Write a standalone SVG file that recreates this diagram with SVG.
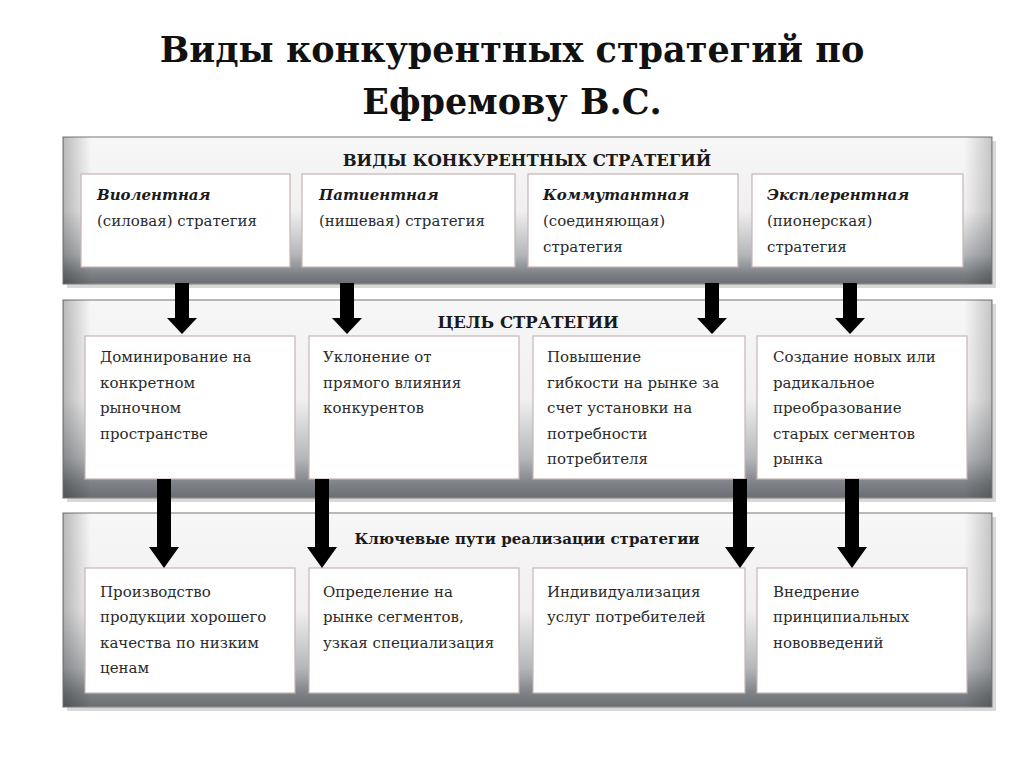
<svg xmlns="http://www.w3.org/2000/svg" width="1024" height="767" viewBox="0 0 1024 767">
<defs>
<linearGradient id="pg" x1="0" y1="0" x2="0" y2="1">
<stop offset="0" stop-color="#f7f7f7"/>
<stop offset="0.5" stop-color="#f0f0f0"/>
<stop offset="0.8" stop-color="#b4b7ba"/>
<stop offset="0.93" stop-color="#7d8185"/>
<stop offset="1" stop-color="#6a6e72"/>
</linearGradient>
<linearGradient id="sg" x1="0" y1="0" x2="1" y2="0">
<stop offset="0" stop-color="#000" stop-opacity="0.25"/>
<stop offset="0.03" stop-color="#000" stop-opacity="0"/>
<stop offset="0.97" stop-color="#000" stop-opacity="0"/>
<stop offset="1" stop-color="#000" stop-opacity="0.2"/>
</linearGradient>
</defs>
<style>
.title{font-family:"DejaVu Serif","Liberation Serif",serif;font-weight:bold;font-size:35px;fill:#111;text-anchor:middle}
.panel{fill:url(#pg);stroke:#8c8c8c;stroke-width:1.2}
.side{fill:url(#sg)}
.shadow{fill:#d8d8d8}
.box{fill:#fff;stroke:#c9b3b3;stroke-width:1.2}
.ph{font-family:"DejaVu Serif","Liberation Serif",serif;font-weight:bold;font-size:15px;fill:#1a1a1a;text-anchor:middle}
.caps{font-size:16.5px}
.t{font-family:"DejaVu Serif","Liberation Serif",serif;font-size:15px;fill:#2b2b2b}
.ti{font-family:"DejaVu Serif","Liberation Serif",serif;font-size:15px;fill:#1a1a1a;font-style:italic;font-weight:bold}
.arrow{fill:#000}
</style>
<rect width="1024" height="767" fill="#fff"/>
<text class="title" x="512" y="62">Виды конкурентных стратегий по</text>
<text class="title" x="512" y="114">Ефремову В.С.</text>

<g id="panel-types">
<rect class="shadow" x="67" y="141" width="929" height="147"/>
<rect class="panel" x="63" y="137" width="929" height="147"/>
<rect class="side" x="63" y="137" width="929" height="147"/>
<text class="ph caps" x="527" y="166">ВИДЫ КОНКУРЕНТНЫХ СТРАТЕГИЙ</text>
</g>
<g id="type-violent">
<rect class="box" x="81" y="174" width="209" height="93"/>
<text class="ti" x="97" y="200">Виолентная</text>
<text class="t" x="97" y="226">(силовая) стратегия</text>
</g>
<g id="type-patient">
<rect class="box" x="302" y="174" width="213" height="93"/>
<text class="ti" x="319" y="200">Патиентная</text>
<text class="t" x="319" y="226">(нишевая) стратегия</text>
</g>
<g id="type-commutant">
<rect class="box" x="528" y="174" width="210" height="93"/>
<text class="ti" x="543" y="200">Коммутантная</text>
<text class="t" x="543" y="226">(соединяющая)</text>
<text class="t" x="543" y="252">стратегия</text>
</g>
<g id="type-explerent">
<rect class="box" x="752" y="174" width="211" height="93"/>
<text class="ti" x="767" y="200">Эксплерентная</text>
<text class="t" x="767" y="226">(пионерская)</text>
<text class="t" x="767" y="252">стратегия</text>
</g>

<g id="panel-goal">
<rect class="shadow" x="67" y="304" width="929" height="198"/>
<rect class="panel" x="63" y="300" width="929" height="198"/>
<rect class="side" x="63" y="300" width="929" height="198"/>
<text class="ph caps" x="528" y="328">ЦЕЛЬ СТРАТЕГИИ</text>
</g>
<g id="goal-1">
<rect class="box" x="85" y="336" width="210" height="143"/>
<text class="t" x="100" y="362">Доминирование на</text>
<text class="t" x="100" y="388">конкретном</text>
<text class="t" x="100" y="413">рыночном</text>
<text class="t" x="100" y="439">пространстве</text>
</g>
<g id="goal-2">
<rect class="box" x="309" y="336" width="210" height="143"/>
<text class="t" x="323" y="362">Уклонение от</text>
<text class="t" x="323" y="388">прямого влияния</text>
<text class="t" x="323" y="413">конкурентов</text>
</g>
<g id="goal-3">
<rect class="box" x="533" y="336" width="212" height="143"/>
<text class="t" x="547" y="362">Повышение</text>
<text class="t" x="547" y="388">гибкости на рынке за</text>
<text class="t" x="547" y="413">счет установки на</text>
<text class="t" x="547" y="439">потребности</text>
<text class="t" x="547" y="464">потребителя</text>
</g>
<g id="goal-4">
<rect class="box" x="757" y="336" width="210" height="143"/>
<text class="t" x="773" y="362">Создание новых или</text>
<text class="t" x="773" y="388">радикальное</text>
<text class="t" x="773" y="413">преобразование</text>
<text class="t" x="773" y="439">старых сегментов</text>
<text class="t" x="773" y="464">рынка</text>
</g>

<g id="panel-ways">
<rect class="shadow" x="67" y="517" width="929" height="194"/>
<rect class="panel" x="63" y="513" width="929" height="194"/>
<rect class="side" x="63" y="513" width="929" height="194"/>
<text class="ph" x="527" y="544">Ключевые пути реализации стратегии</text>
</g>
<g id="way-1">
<rect class="box" x="85" y="568" width="210" height="125"/>
<text class="t" x="100" y="597">Производство</text>
<text class="t" x="100" y="622">продукции хорошего</text>
<text class="t" x="100" y="648">качества по низким</text>
<text class="t" x="100" y="673">ценам</text>
</g>
<g id="way-2">
<rect class="box" x="309" y="568" width="210" height="125"/>
<text class="t" x="323" y="597">Определение на</text>
<text class="t" x="323" y="622">рынке сегментов,</text>
<text class="t" x="323" y="648">узкая специализация</text>
</g>
<g id="way-3">
<rect class="box" x="533" y="568" width="212" height="125"/>
<text class="t" x="547" y="597">Индивидуализация</text>
<text class="t" x="547" y="622">услуг потребителей</text>
</g>
<g id="way-4">
<rect class="box" x="757" y="568" width="210" height="125"/>
<text class="t" x="773" y="597">Внедрение</text>
<text class="t" x="773" y="622">принципиальных</text>
<text class="t" x="773" y="648">нововведений</text>
</g>

<g id="connectors">
<path class="arrow" d="M175,283 H189 V318 H197 L182,334 L167,318 H175 Z"/>
<path class="arrow" d="M340,283 H354 V318 H362 L347,334 L332,318 H340 Z"/>
<path class="arrow" d="M705,283 H719 V318 H727 L712,334 L697,318 H705 Z"/>
<path class="arrow" d="M843,283 H857 V318 H865 L850,334 L835,318 H843 Z"/>
<path class="arrow" d="M157,479 H171 V547 H179 L164,568 L149,547 H157 Z"/>
<path class="arrow" d="M315,479 H329 V547 H337 L322,568 L307,547 H315 Z"/>
<path class="arrow" d="M733,479 H747 V547 H755 L740,568 L725,547 H733 Z"/>
<path class="arrow" d="M845,479 H859 V547 H867 L852,568 L837,547 H845 Z"/>
</g>
</svg>
